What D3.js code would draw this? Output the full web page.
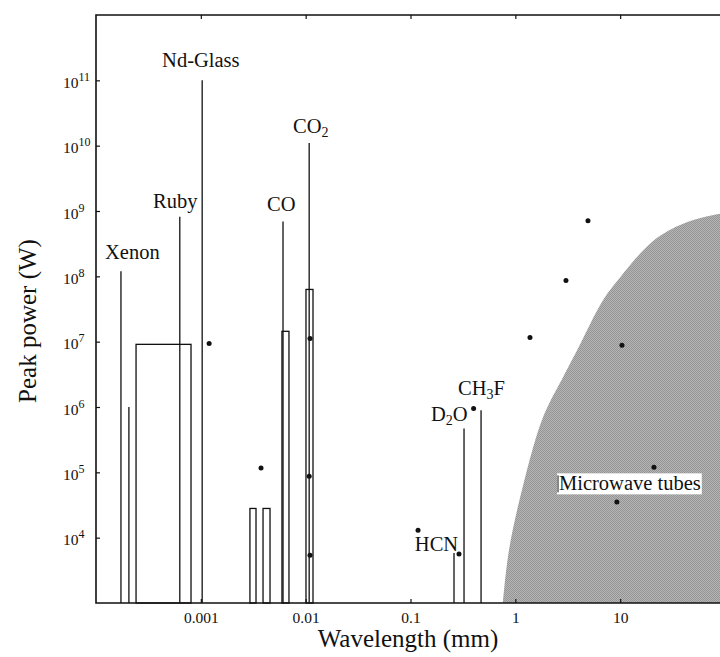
<!DOCTYPE html>
<html>
<head>
<meta charset="utf-8">
<script src="https://cdn.jsdelivr.net/npm/d3@7"></script>
<style>
  body { margin: 0; background: #fff; }
  text { font-family: "Liberation Serif", "Times New Roman", serif; fill: #111; }
</style>
</head>
<body>
<script>
// Lasers drawn as thin spikes (wavelength in mm, peak power in W)
var spikeNames = ["Xenon", "Xenon 2", "Ruby", "Nd-Glass", "CO", "CO2", "HCN", "D2O", "CH3F"];
var spikeWavelength = [1.73e-4, 2.06e-4, 6.3e-4, 1.03e-3, 6.08e-3, 1.08e-2, 0.26, 0.324, 0.471];
var spikePower = [1.2e8, 1e6, 8.2e8, 1.0e11, 6.9e8, 1.1e10, 5.8e3, 4.7e5, 8.9e5];

// Lasers drawn as tuning-range boxes
var boxNames = ["Ruby", "band A", "band B", "CO", "CO2"];
var boxStart = [2.41e-4, 2.94e-3, 3.92e-3, 5.94e-3, 1.007e-2];
var boxEnd = [8.06e-4, 3.36e-3, 4.57e-3, 6.93e-3, 1.175e-2];
var boxPower = [9.1e6, 2.8e4, 2.8e4, 1.44e7, 6.3e7];

// Single sources (dots)
var dotWavelength = [1.2e-3, 3.75e-3, 1.1e-2, 1.08e-2, 1.1e-2, 0.118, 0.29, 0.40, 1.38, 3.04, 4.93, 10.4, 21, 9.3];
var dotPower = [9.4e6, 1.16e5, 1.12e7, 8.7e4, 5.4e3, 1.3e4, 5.6e3, 9.5e5, 1.16e7, 8.6e7, 7.1e8, 8.8e6, 1.2e5, 3.5e4];

// Left edge of the microwave tube region
var tubeWavelength = [0.76, 0.87, 1.2, 1.84, 2.9, 3.87, 6.85, 9.96, 15.5, 22.5, 39.8, 89.7, 150];
var tubePower = [1e3, 6.5e3, 6.8e4, 7e5, 3e6, 7.3e6, 4.3e7, 9.6e7, 2.23e8, 3.9e8, 6.4e8, 9.1e8, 9.5e8];

// Labels ("_n" marks a subscript)
var labelNames = ["Xenon", "Ruby", "Nd-Glass", "CO", "CO_2", "HCN", "D_2O", "CH_3F", "Microwave tubes"];
var labelWavelength = [1.22e-4, 3.5e-4, 4.27e-4, 4.28e-3, 7.57e-3, 0.110, 0.157, 0.284, 2.61];
var labelPower = [1.87e8, 1.12e9, 1.6e11, 1.0e9, 1.57e10, 6.2e3, 6.2e5, 1.5e6, 5.3e4];

// Axis ticks
var xTicks = [0.001, 0.01, 0.1, 1, 10];
var xTickLabels = ["0.001", "0.01", "0.1", "1", "10"];
var yExponents = [4, 5, 6, 7, 8, 9, 10, 11];

var svgWidth = 720;
var svgHeight = 657;
var plot = { left: 96, top: 15, right: 725, bottom: 603 };

var svg = d3.select("body")
  .append("svg")
  .attr("width", svgWidth)
  .attr("height", svgHeight);

var x = d3.scaleLog()
  .domain([1e-4, 1e2])
  .range([plot.left, plot.right]);

var y = d3.scaleLog()
  .domain([1e3, 1e12])
  .range([plot.bottom, plot.top]);

var defs = svg.append("defs");

defs.append("clipPath")
  .attr("id", "plot-clip")
  .append("rect")
  .attr("x", plot.left)
  .attr("y", plot.top)
  .attr("width", plot.right - plot.left)
  .attr("height", plot.bottom - plot.top);

// halftone-like screen for the shaded region
var screen = defs.append("pattern")
  .attr("id", "screen")
  .attr("width", 2)
  .attr("height", 2)
  .attr("patternUnits", "userSpaceOnUse");
screen.append("rect").attr("width", 2).attr("height", 2).attr("fill", "#b6b6b6");
screen.append("rect").attr("width", 1).attr("height", 1).attr("fill", "#949494");
screen.append("rect").attr("x", 1).attr("y", 1).attr("width", 1).attr("height", 1).attr("fill", "#949494");

// Microwave tube region, shaded to the right of its edge
var tubeData = tubeWavelength.map((w, i) => ({ w: w, p: tubePower[i] }));
var tubeArea = d3.area()
  .curve(d3.curveCatmullRom)
  .y(d => y(d.p))
  .x0(d => x(d.w))
  .x1(plot.right + 20);

svg.append("path")
  .attr("d", tubeArea(tubeData))
  .attr("fill", "url(#screen)")
  .attr("clip-path", "url(#plot-clip)");

// Boxes
svg.append("g")
  .selectAll("rect")
  .data(boxNames)
  .join("rect")
  .attr("x", (d, i) => x(boxStart[i]))
  .attr("width", (d, i) => x(boxEnd[i]) - x(boxStart[i]))
  .attr("y", (d, i) => y(boxPower[i]))
  .attr("height", (d, i) => y(1e3) - y(boxPower[i]))
  .attr("fill", "none")
  .attr("stroke", "#111")
  .attr("stroke-width", 1.3);

// Spikes
svg.append("g")
  .selectAll("line")
  .data(spikeNames)
  .join("line")
  .attr("x1", (d, i) => x(spikeWavelength[i]))
  .attr("x2", (d, i) => x(spikeWavelength[i]))
  .attr("y1", y(1e3))
  .attr("y2", (d, i) => y(spikePower[i]))
  .attr("stroke", "#111")
  .attr("stroke-width", 1.3);

// Dots
svg.append("g")
  .selectAll("circle")
  .data(dotWavelength)
  .join("circle")
  .attr("cx", d => x(d))
  .attr("cy", (d, i) => y(dotPower[i]))
  .attr("r", 2.5)
  .attr("fill", "#111");

// Labels with subscripts
var labels = svg.append("g")
  .attr("font-size", 20.5)
  .selectAll("text")
  .data(labelNames)
  .join("text")
  .attr("x", (d, i) => x(labelWavelength[i]))
  .attr("y", (d, i) => y(labelPower[i]));

labels.each(function(d) {
  var t = d3.select(this);
  d.split(/_(\d)/).forEach(function(part, k) {
    if (part === "") return;
    var span = t.append("tspan").text(part);
    if (k % 2 === 1) span.attr("font-size", 14).attr("dy", 4);
    else if (k > 0) span.attr("dy", -4);
  });
});

// White box behind the microwave label
labels.filter(d => d === "Microwave tubes").each(function() {
  var b = this.getBBox();
  d3.select(this.parentNode).insert("rect", function() { return this.firstChild; })
    .attr("x", b.x - 2)
    .attr("y", b.y + 1)
    .attr("width", b.width + 3)
    .attr("height", b.height - 1)
    .attr("fill", "#fff");
  d3.select(this.parentNode).append("line")
    .attr("x1", b.x - 1).attr("x2", b.x - 1)
    .attr("y1", b.y + 3).attr("y2", b.y + b.height - 2)
    .attr("stroke", "#111")
    .attr("stroke-width", 1);
});

// Axes
var bottomAxis = d3.axisBottom(x)
  .tickValues(xTicks)
  .tickFormat((d, i) => xTickLabels[i])
  .tickSize(-4)
  .tickSizeOuter(0)
  .tickPadding(9);

var gx = svg.append("g")
  .attr("transform", `translate(0, ${plot.bottom})`)
  .call(bottomAxis);
gx.attr("font-family", null).attr("font-size", 15.5);

var topAxis = d3.axisTop(x)
  .tickValues(xTicks)
  .tickFormat("")
  .tickSize(-4)
  .tickSizeOuter(0);

svg.append("g")
  .attr("transform", `translate(0, ${plot.top})`)
  .call(topAxis);

var leftAxis = d3.axisLeft(y)
  .tickValues(yExponents.map(e => Math.pow(10, e)))
  .tickFormat("")
  .tickSize(-4)
  .tickSizeOuter(0);

var gy = svg.append("g")
  .attr("transform", `translate(${plot.left}, 0)`)
  .call(leftAxis);

gy.selectAll(".tick")
  .append("text")
  .attr("x", -33)
  .attr("y", 7)
  .attr("text-anchor", "start")
  .attr("font-size", 15.5)
  .each(function(d) {
    var t = d3.select(this);
    t.append("tspan").text("10");
    t.append("tspan").attr("font-size", 12).attr("dy", -7).text(Math.round(Math.log10(d)));
  });

svg.selectAll(".domain").remove();
svg.selectAll(".tick line").attr("stroke", "#111").attr("stroke-width", 1.2);

// Frame
svg.append("path")
  .attr("d", `M${plot.right},${plot.top}H${plot.left}V${plot.bottom}H${plot.right}`)
  .attr("fill", "none")
  .attr("stroke", "#111")
  .attr("stroke-width", 1.6);

// Axis titles
svg.append("text")
  .attr("x", 408)
  .attr("y", 647)
  .attr("text-anchor", "middle")
  .attr("font-size", 25)
  .text("Wavelength (mm)");

svg.append("text")
  .attr("transform", "translate(36, 321) rotate(-90)")
  .attr("text-anchor", "middle")
  .attr("font-size", 25)
  .text("Peak power (W)");
</script>
</body>
</html>
